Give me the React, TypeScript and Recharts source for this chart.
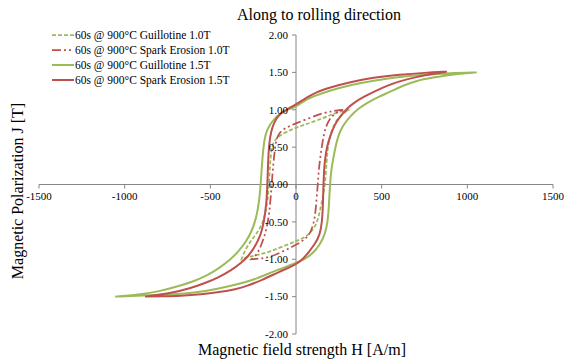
import React from "react";
import { LineChart, Line, XAxis, YAxis, ReferenceLine } from "recharts";

// ---- data (H in A/m, J in T) ----
const guillotine10 = [
  { h: 312, j: 1.0 }, { h: 312, j: 1.0 }, { h: 250, j: 0.97 }, { h: 200, j: 0.93 }, { h: 160, j: 0.89 }, { h: 100, j: 0.84 },
  { h: 50, j: 0.8 }, { h: 0, j: 0.76 }, { h: -50, j: 0.71 }, { h: -93, j: 0.66 }, { h: -120, j: 0.6 },
  { h: -134, j: 0.55 }, { h: -145, j: 0.45 }, { h: -152, j: 0.25 }, { h: -158, j: 0 }, { h: -165, j: -0.2 },
  { h: -180, j: -0.4 }, { h: -200, j: -0.55 }, { h: -235, j: -0.67 }, { h: -268, j: -0.77 }, { h: -298, j: -0.88 },
  { h: -318, j: -1.0 }, { h: -318, j: -1.0 }, { h: -318, j: -1.0 },
  { h: -280, j: -0.97 }, { h: -220, j: -0.94 }, { h: -152, j: -0.9 }, { h: -80, j: -0.83 }, { h: 0, j: -0.76 },
  { h: 50, j: -0.71 }, { h: 82, j: -0.65 }, { h: 110, j: -0.57 }, { h: 128, j: -0.47 }, { h: 145, j: -0.3 },
  { h: 160, j: -0.12 }, { h: 170, j: 0 }, { h: 179, j: 0.33 }, { h: 186, j: 0.5 }, { h: 198, j: 0.64 },
  { h: 215, j: 0.76 }, { h: 237, j: 0.86 }, { h: 265, j: 0.93 }, { h: 296, j: 0.98 }, { h: 312, j: 1.0 }, { h: 312, j: 1.0 },
];

const spark10 = [
  { h: 275, j: 1.0 }, { h: 275, j: 1.0 }, { h: 220, j: 0.985 }, { h: 160, j: 0.96 }, { h: 80, j: 0.89 }, { h: 0, j: 0.82 },
  { h: -60, j: 0.76 }, { h: -100, j: 0.69 }, { h: -115, j: 0.6 }, { h: -125, j: 0.45 }, { h: -135, j: 0.2 },
  { h: -142, j: 0 }, { h: -150, j: -0.25 }, { h: -163, j: -0.5 }, { h: -180, j: -0.66 }, { h: -193, j: -0.75 },
  { h: -215, j: -0.88 }, { h: -235, j: -0.95 }, { h: -260, j: -1.0 }, { h: -260, j: -1.0 }, { h: -260, j: -1.0 },
  { h: -200, j: -0.99 }, { h: -152, j: -0.97 }, { h: -80, j: -0.9 }, { h: 0, j: -0.81 }, { h: 62, j: -0.72 },
  { h: 90, j: -0.62 }, { h: 111, j: -0.45 }, { h: 120, j: -0.2 }, { h: 127, j: 0 }, { h: 133, j: 0.2 },
  { h: 140, j: 0.33 }, { h: 150, j: 0.5 }, { h: 160, j: 0.64 }, { h: 175, j: 0.78 }, { h: 198, j: 0.89 },
  { h: 237, j: 0.97 }, { h: 275, j: 1.0 }, { h: 275, j: 1.0 },
];

const guillotine15 = [
  { h: 1055, j: 1.5 }, { h: 900, j: 1.49 }, { h: 750, j: 1.47 }, { h: 607, j: 1.44 }, { h: 450, j: 1.39 },
  { h: 315, j: 1.33 }, { h: 200, j: 1.26 }, { h: 100, j: 1.18 }, { h: 40, j: 1.11 }, { h: 0, j: 1.04 },
  { h: -50, j: 1.0 }, { h: -93, j: 0.95 }, { h: -130, j: 0.87 }, { h: -152, j: 0.8 }, { h: -170, j: 0.72 },
  { h: -181, j: 0.64 }, { h: -190, j: 0.5 }, { h: -198, j: 0.3 }, { h: -206, j: 0 }, { h: -214, j: -0.2 },
  { h: -224, j: -0.35 }, { h: -239, j: -0.5 }, { h: -260, j: -0.63 }, { h: -288, j: -0.75 }, { h: -330, j: -0.88 },
  { h: -385, j: -1.01 }, { h: -450, j: -1.12 }, { h: -520, j: -1.22 }, { h: -600, j: -1.3 }, { h: -700, j: -1.37 },
  { h: -800, j: -1.43 }, { h: -900, j: -1.47 }, { h: -1056, j: -1.5 }, { h: -1056, j: -1.5 }, { h: -1056, j: -1.5 },
  { h: -900, j: -1.485 }, { h: -700, j: -1.47 }, { h: -600, j: -1.45 }, { h: -463, j: -1.4 }, { h: -300, j: -1.31 },
  { h: -230, j: -1.26 }, { h: -150, j: -1.18 }, { h: -80, j: -1.12 }, { h: 0, j: -1.05 }, { h: 50, j: -1.0 },
  { h: 100, j: -0.92 }, { h: 140, j: -0.8 }, { h: 169, j: -0.67 }, { h: 185, j: -0.5 }, { h: 192, j: -0.3 },
  { h: 198, j: 0 }, { h: 206, j: 0.2 }, { h: 216, j: 0.33 }, { h: 230, j: 0.5 }, { h: 245, j: 0.64 },
  { h: 270, j: 0.78 }, { h: 315, j: 0.91 }, { h: 360, j: 1.01 }, { h: 412, j: 1.09 }, { h: 480, j: 1.17 },
  { h: 549, j: 1.24 }, { h: 620, j: 1.32 }, { h: 704, j: 1.39 }, { h: 800, j: 1.43 }, { h: 899, j: 1.47 },
  { h: 1055, j: 1.5 },
];

const spark15 = [
  { h: 881, j: 1.51 }, { h: 750, j: 1.495 }, { h: 607, j: 1.47 }, { h: 450, j: 1.43 }, { h: 315, j: 1.37 },
  { h: 200, j: 1.3 }, { h: 121, j: 1.24 }, { h: 60, j: 1.16 }, { h: 0, j: 1.07 }, { h: -50, j: 1.01 },
  { h: -93, j: 0.95 }, { h: -125, j: 0.85 }, { h: -145, j: 0.72 }, { h: -157, j: 0.55 }, { h: -163, j: 0.3 },
  { h: -167, j: 0 }, { h: -172, j: -0.25 }, { h: -187, j: -0.5 }, { h: -203, j: -0.65 }, { h: -222, j: -0.75 },
  { h: -245, j: -0.85 }, { h: -275, j: -0.95 }, { h: -320, j: -1.05 }, { h: -380, j: -1.15 }, { h: -450, j: -1.24 },
  { h: -530, j: -1.32 }, { h: -620, j: -1.39 }, { h: -720, j: -1.45 }, { h: -881, j: -1.5 }, { h: -881, j: -1.5 },
  { h: -881, j: -1.5 },
  { h: -780, j: -1.495 }, { h: -677, j: -1.49 }, { h: -550, j: -1.47 }, { h: -450, j: -1.44 }, { h: -350, j: -1.4 },
  { h: -288, j: -1.36 }, { h: -200, j: -1.28 }, { h: -100, j: -1.17 }, { h: 0, j: -1.07 }, { h: 40, j: -1.0 },
  { h: 72, j: -0.91 }, { h: 110, j: -0.8 }, { h: 140, j: -0.67 }, { h: 152, j: -0.5 }, { h: 157, j: -0.3 },
  { h: 160, j: 0 }, { h: 164, j: 0.2 }, { h: 169, j: 0.33 }, { h: 180, j: 0.5 }, { h: 198, j: 0.64 },
  { h: 225, j: 0.8 }, { h: 257, j: 0.91 }, { h: 295, j: 1.01 }, { h: 335, j: 1.09 }, { h: 400, j: 1.18 },
  { h: 471, j: 1.26 }, { h: 530, j: 1.32 }, { h: 600, j: 1.38 }, { h: 704, j: 1.44 }, { h: 800, j: 1.48 },
  { h: 881, j: 1.51 },
];

const xTicks = [-1500, -1000, -500, 0, 500, 1000, 1500];
const yTicks = [-2, -1.5, -1, -0.5, 0, 0.5, 1, 1.5, 2];

const seriesNames = [
  "60s @ 900°C Guillotine 1.0T",
  "60s @ 900°C Spark Erosion 1.0T",
  "60s @ 900°C Guillotine 1.5T",
  "60s @ 900°C Spark Erosion 1.5T",
];

// ---- layout / style ----
const W = 570;
const H = 363;
const MARGIN = { top: 35, right: 17, bottom: 0, left: 0 };
const X_AXIS_H = 29;
const Y_AXIS_W = 39;
const X_DOMAIN: [number, number] = [-1500, 1500];
const Y_DOMAIN: [number, number] = [-2, 2];
const PLOT_LEFT = MARGIN.left + Y_AXIS_W;
const PLOT_W = W - PLOT_LEFT - MARGIN.right;
const PLOT_H = H - MARGIN.top - MARGIN.bottom - X_AXIS_H;
const ZERO_X = PLOT_LEFT + (PLOT_W * (0 - X_DOMAIN[0])) / (X_DOMAIN[1] - X_DOMAIN[0]);
const ZERO_Y = MARGIN.top + (PLOT_H * (Y_DOMAIN[1] - 0)) / (Y_DOMAIN[1] - Y_DOMAIN[0]);

const GREEN = "#9BBB59";
const RED = "#C0504D";
const AXIS = "#868686";
const FONT = "Liberation Serif, Times New Roman, serif";

const styles = [
  { color: GREEN, dash: "4 2", width: 1.75 },
  { color: RED, dash: "9 3 2 3 2 3", width: 1.75 },
  { color: GREEN, dash: undefined, width: 2 },
  { color: RED, dash: undefined, width: 2 },
];
const seriesData = [guillotine10, spark10, guillotine15, spark15];

const tickText = { fontFamily: FONT, fontSize: 11, fill: "#000" };

const renderXTick = (props: any) => {
  const { x, payload } = props;
  return (
    <g key={`xt-${payload.value}`}>
      <line x1={x} x2={x} y1={ZERO_Y} y2={ZERO_Y + 4} stroke={AXIS} strokeWidth={1} />
      <text x={x} y={ZERO_Y + 15} textAnchor="middle" style={tickText}>
        {payload.value}
      </text>
    </g>
  );
};

const renderYTick = (props: any) => {
  const { y, payload } = props;
  return (
    <g key={`yt-${payload.value}`}>
      <line x1={ZERO_X - 4} x2={ZERO_X} y1={y} y2={y} stroke={AXIS} strokeWidth={1} />
      <text x={ZERO_X - 8} y={y} dy="0.35em" textAnchor="end" style={tickText}>
        {Number(payload.value).toFixed(2)}
      </text>
    </g>
  );
};

const LegendBox = () => (
  <div style={{ position: "absolute", left: 52, top: 27, fontFamily: FONT, fontSize: 11.5, color: "#000" }}>
    {seriesNames.map((name, i) => (
      <div key={name} style={{ display: "flex", alignItems: "center", height: 15 }}>
        <svg width={22} height={6} style={{ marginRight: 1 }}>
          <line x1={0} x2={22} y1={3} y2={3} stroke={styles[i].color} strokeWidth={styles[i].width}
            strokeDasharray={styles[i].dash} />
        </svg>
        <span style={{ whiteSpace: "nowrap" }}>{name}</span>
      </div>
    ))}
  </div>
);

export default function App() {
  return (
    <div style={{ position: "absolute", left: 0, top: 0, width: W, height: H, background: "#fff", fontFamily: FONT }}>
      <LineChart width={W} height={H} margin={MARGIN}>
        <ReferenceLine y={0} stroke={AXIS} strokeWidth={1} />
        <ReferenceLine x={0} stroke={AXIS} strokeWidth={1} />
        {seriesData.map((d, i) => (
          <Line key={seriesNames[i]} name={seriesNames[i]} data={d} dataKey="j" type="basis"
            stroke={styles[i].color} strokeWidth={styles[i].width} strokeDasharray={styles[i].dash}
            dot={false} activeDot={false} isAnimationActive={false} />
        ))}
        <XAxis type="number" dataKey="h" domain={X_DOMAIN} ticks={xTicks} interval={0} allowDataOverflow
          axisLine={false} tickLine={false} height={X_AXIS_H} tick={renderXTick} />
        <YAxis type="number" dataKey="j" domain={Y_DOMAIN} ticks={yTicks} interval={0} allowDataOverflow
          axisLine={false} tickLine={false} width={Y_AXIS_W} tick={renderYTick} />
      </LineChart>
      <div style={{ position: "absolute", top: 6, left: 0, width: W, textAlign: "center", paddingLeft: 68,
        boxSizing: "border-box", fontSize: 16 }}>Along to rolling direction</div>
      <div style={{ position: "absolute", top: 341, left: 0, width: W, textAlign: "center", paddingLeft: 34,
        boxSizing: "border-box", fontSize: 16 }}>Magnetic field strength H [A/m]</div>
      <div style={{ position: "absolute", left: 18, top: 191, width: 0, height: 0 }}>
        <div style={{ position: "absolute", transform: "translate(-50%, -50%) rotate(-90deg)", whiteSpace: "nowrap",
          fontSize: 16 }}>Magnetic Polarization J [T]</div>
      </div>
      <LegendBox />
    </div>
  );
}
